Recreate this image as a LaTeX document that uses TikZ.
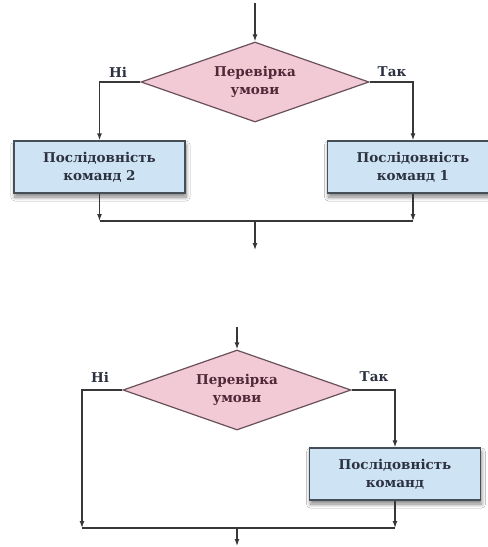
\documentclass[tikz,border=0pt]{standalone}
\usepackage{fontspec}
\setmainfont{DejaVu Serif}
\usetikzlibrary{shapes.geometric,arrows.meta,shadows.blur}

\definecolor{condfill}{RGB}{241,202,214}
\definecolor{conddraw}{RGB}{105,80,90}
\definecolor{condtext}{RGB}{80,40,55}
\definecolor{actfill}{RGB}{206,228,245}
\definecolor{actdraw}{RGB}{70,78,88}
\definecolor{acttext}{RGB}{45,50,65}
\definecolor{linecol}{RGB}{55,55,55}

\tikzset{
  cond/.style={diamond, aspect=2.85, draw=conddraw, fill=condfill, line width=1.2pt,
    minimum width=228pt, minimum height=80pt, inner sep=0pt,
    font=\bfseries\fontsize{13.5}{18}\selectfont, text=condtext, align=center},
  actbox/.style={rectangle, draw=actdraw, fill=actfill, line width=1.2pt,
    minimum width=171pt, minimum height=52pt, inner sep=0pt,
    font=\bfseries\fontsize{13.5}{18}\selectfont, text=acttext, align=center,
    blur shadow={shadow xshift=1pt, shadow yshift=-4pt, shadow blur radius=4pt,
      shadow blur steps=8, shadow opacity=50}},
  lbl/.style={font=\bfseries\fontsize{13.5}{16}\selectfont, text=acttext, inner sep=0pt},
  conn/.style={draw=linecol, line width=1.3pt},
  arr/.style={conn, -{Latex[length=7pt,width=5pt]}}
}

\begin{document}
\begin{tikzpicture}[x=1pt,y=-1pt]
  \clip (0,0) rectangle (488,547);
  \fill[white] (0,0) rectangle (488,547);

  % ---- full branching: two alternatives ----
  \node[cond]   (d1) at (255,82)    {Перевірка\\умови};
  \node[actbox] (b2) at (99.5,167)  {Послідовність\\команд 2};
  \node[actbox] (b1) at (413,167)   {Послідовність\\команд 1};
  \node[lbl] (no1)  at (118,72) {Ні};
  \node[lbl] (yes1) at (392,72) {Так};

  \coordinate (in1)  at (255,3);
  \coordinate (jl1)  at (99.5,221);
  \coordinate (jr1)  at (413,221);
  \coordinate (jm1)  at (255,221);
  \coordinate (out1) at (255,250);

  \draw[arr]  (in1) -- (d1.north);
  \draw[arr]  (d1.west) -| (b2.north);
  \draw[arr]  (d1.east) -| (b1.north);
  \draw[arr]  (b2.south) -- (jl1);
  \draw[arr]  (b1.south) -- (jr1);
  \draw[conn] (jl1) -- (jr1);
  \draw[arr]  (jm1) -- (out1);

  % ---- short branching: one alternative ----
  \node[cond]   (d2) at (237,390) {Перевірка\\умови};
  \node[actbox] (b3) at (395,474) {Послідовність\\команд};
  \node[lbl] (no2)  at (100,377) {Ні};
  \node[lbl] (yes2) at (374,377) {Так};

  \coordinate (in2)  at (237,327);
  \coordinate (jl2)  at (82,528);
  \coordinate (jr2)  at (395,528);
  \coordinate (jm2)  at (237,528);
  \coordinate (out2) at (237,546);

  \draw[arr]  (in2) -- (d2.north);
  \draw[arr]  (d2.west) -| (jl2);
  \draw[arr]  (d2.east) -| (b3.north);
  \draw[arr]  (b3.south) -- (jr2);
  \draw[conn] (jl2) -- (jr2);
  \draw[arr]  (jm2) -- (out2);
\end{tikzpicture}
\end{document}
